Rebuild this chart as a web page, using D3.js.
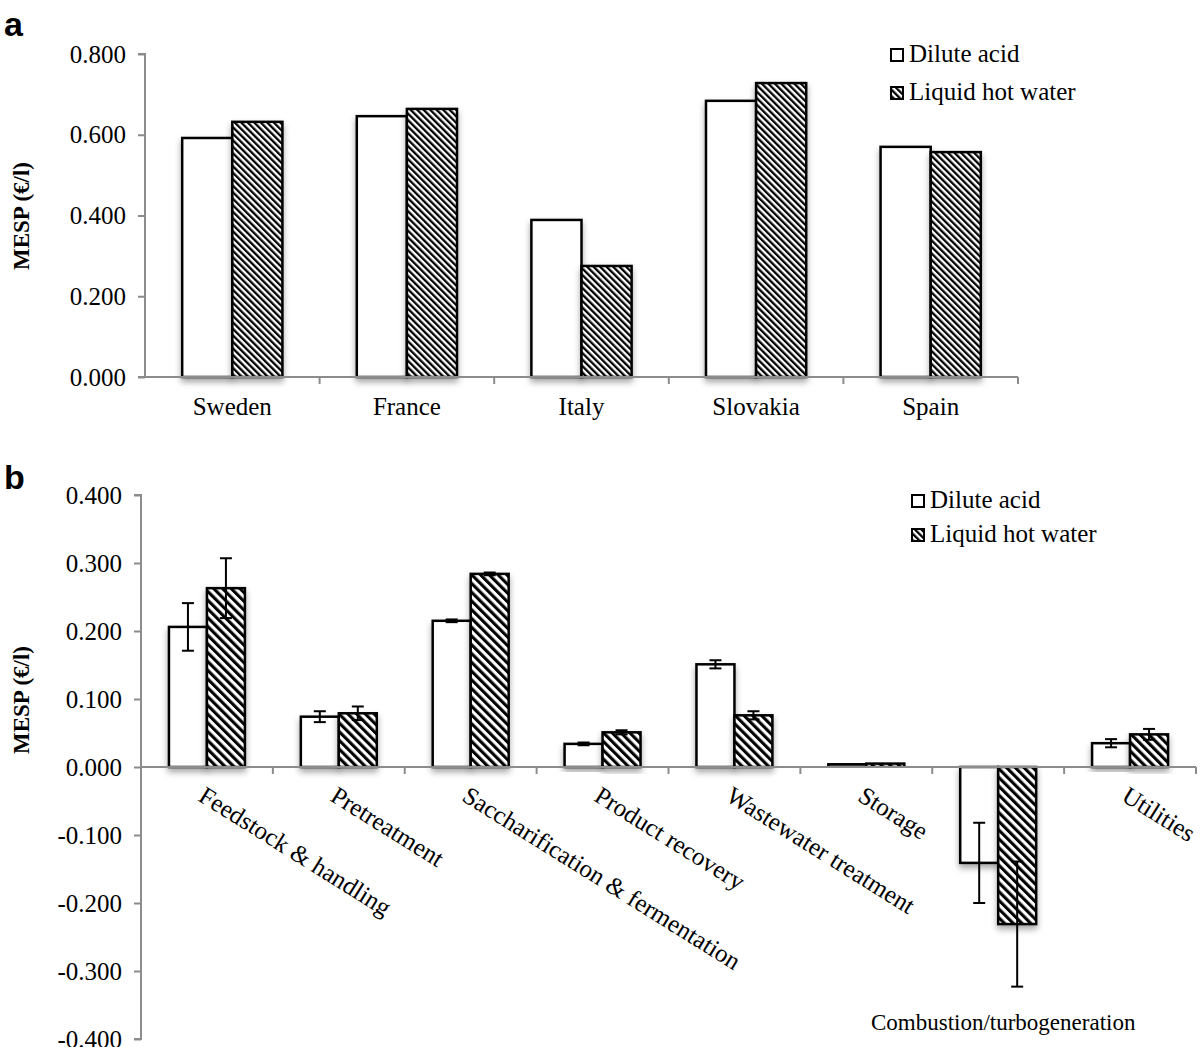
<!DOCTYPE html>
<html><head><meta charset="utf-8">
<script src="https://cdn.jsdelivr.net/npm/d3@7"></script>
<style>body{margin:0;background:#fff}svg{display:block}</style>
</head><body>
<script>
// ---- Data ----
const seriesNames = ["Dilute acid", "Liquid hot water"];
const countries = ["Sweden", "France", "Italy", "Slovakia", "Spain"];
const countryDilute = [0.592, 0.646, 0.389, 0.684, 0.570];
const countryLHW = [0.632, 0.664, 0.275, 0.728, 0.557];
const ticksA = [0, 0.2, 0.4, 0.6, 0.8];

const processes = ["Feedstock & handling", "Pretreatment", "Saccharification & fermentation", "Product recovery", "Wastewater treatment", "Storage", "Combustion/turbogeneration", "Utilities"];
const processDilute = [0.206, 0.074, 0.215, 0.034, 0.151, 0.004, -0.141, 0.035];
const processDiluteErr = [0.035, 0.008, 0.002, 0.002, 0.006, 0.001, 0.059, 0.006];
const processLHW = [0.263, 0.079, 0.284, 0.051, 0.076, 0.005, -0.231, 0.048];
const processLHWErr = [0.044, 0.010, 0.002, 0.003, 0.006, 0.001, 0.092, 0.008];
const ticksB = [-0.4, -0.3, -0.2, -0.1, 0, 0.1, 0.2, 0.3, 0.4];

const W = 1200, H = 1047;
const svg = d3.select("body").append("svg").attr("width", W).attr("height", H);
const defs = svg.append("defs");
function hatch(id, size) {
  const p = defs.append("pattern").attr("id", id).attr("patternUnits", "userSpaceOnUse")
    .attr("width", size).attr("height", size).attr("patternTransform", "rotate(-45)");
  p.append("rect").attr("width", size).attr("height", size).attr("fill", "#fff");
  p.append("rect").attr("width", size / 2).attr("height", size).attr("fill", "#000");
}
hatch("hatchA", 4.6);
hatch("hatchB", 6.2);
const f = defs.append("filter").attr("id", "shadow").attr("x", "-20%").attr("y", "-20%").attr("width", "140%").attr("height", "140%");
f.append("feDropShadow").attr("dx", 0).attr("dy", 4).attr("stdDeviation", 3).attr("flood-color", "#000").attr("flood-opacity", 0.35);

const serif = "'Liberation Serif', 'Times New Roman', serif";
const axisColor = "#8c8c8c";
const fmt = d => d3.format(".3f")(d).replace("\u2212", "-");

function panelLetter(txt, y) {
  svg.append("text").attr("x", 4).attr("y", y).text(txt)
    .style("font-family", "'Liberation Sans', Arial, sans-serif").style("font-weight", "bold").style("font-size", "34px");
}
function yTitle(cy) {
  svg.append("text").attr("transform", `translate(29,${cy}) rotate(-90)`).attr("text-anchor", "middle")
    .style("font-family", serif).style("font-weight", "bold").style("font-size", "23px").text("MESP (€/l)");
}
function yAxis(g, y, x0, ticks) {
  const ax = d3.axisLeft(y).tickValues(ticks).tickFormat(fmt).tickSize(7).tickPadding(12);
  const a = g.append("g").attr("transform", `translate(${x0},0)`).call(ax);
  a.attr("font-family", null);
  a.selectAll("path,line").attr("stroke", axisColor).attr("stroke-width", 2);
  a.select("path").attr("d", `M-7,${y.range()[0]}H0V${y.range()[1]}H-7`);
  a.selectAll("text").style("font-family", serif).style("font-size", "25px").attr("fill", "#000");
  return a;
}
function xBaseline(g, x, yPix) {
  const r = x.range();
  g.append("line").attr("x1", r[0]).attr("x2", r[1]).attr("y1", yPix).attr("y2", yPix)
    .attr("stroke", axisColor).attr("stroke-width", 2);
  const bounds = x.domain().map(d => x(d) + x.bandwidth());
  g.selectAll(".xt").data(bounds).enter().append("line")
    .attr("x1", d => d).attr("x2", d => d).attr("y1", yPix).attr("y2", yPix + 7)
    .attr("stroke", axisColor).attr("stroke-width", 2);
}
function legend(x, y, gap) {
  const lg = svg.append("g");
  seriesNames.forEach((s, i) => {
    lg.append("rect").attr("x", x).attr("y", y + i * gap - 13).attr("width", 12).attr("height", 12)
      .attr("fill", i === 0 ? "#fff" : "url(#hatchA)").attr("stroke", "#000").attr("stroke-width", 2);
    lg.append("text").attr("x", x + 18).attr("y", y + i * gap).text(s)
      .style("font-family", serif).style("font-size", "25px");
  });
}

// ---- Panel a ----
{
  const g = svg.append("g");
  const y = d3.scaleLinear().domain([0, 0.8]).range([377, 54]);
  const x = d3.scaleBand().domain(countries).range([145, 1018]).padding(0);
  const bw = x.bandwidth();
  const x1 = d3.scaleBand().domain(seriesNames).range([bw * 0.213, bw * 0.787]).padding(0);
  const vals = [countryDilute, countryLHW];
  yAxis(g, y, 145, ticksA);
  seriesNames.forEach((s, si) => {
    g.selectAll(".ba" + si).data(countries).enter().append("rect")
      .attr("x", d => x(d) + x1(s)).attr("width", x1.bandwidth())
      .attr("y", (d, i) => y(vals[si][i])).attr("height", (d, i) => y(0) - y(vals[si][i]))
      .attr("fill", si === 0 ? "#fff" : "url(#hatchA)").attr("stroke", "#000").attr("stroke-width", 2.5)
      .attr("filter", "url(#shadow)");
  });
  xBaseline(g, x, 377);
  g.selectAll(".la").data(countries).enter().append("text")
    .attr("x", d => x(d) + bw / 2).attr("y", 415).attr("text-anchor", "middle")
    .style("font-family", serif).style("font-size", "25px").text(d => d);
  panelLetter("a", 36);
  yTitle(216);
  legend(891, 62, 38);
}

// ---- Panel b ----
{
  const g = svg.append("g");
  const y = d3.scaleLinear().domain([-0.4, 0.4]).range([1039, 495]);
  const x = d3.scaleBand().domain(processes).range([141, 1196]).padding(0);
  const bw = x.bandwidth();
  const x1 = d3.scaleBand().domain(seriesNames).range([bw * 0.212, bw * 0.788]).padding(0);
  const vals = [processDilute, processLHW];
  const errs = [processDiluteErr, processLHWErr];
  yAxis(g, y, 141, ticksB);
  seriesNames.forEach((s, si) => {
    g.selectAll(".bb" + si).data(processes).enter().append("rect")
      .attr("x", d => x(d) + x1(s)).attr("width", x1.bandwidth())
      .attr("y", (d, i) => Math.min(y(vals[si][i]), y(0)))
      .attr("height", (d, i) => Math.abs(y(0) - y(vals[si][i])))
      .attr("fill", si === 0 ? "#fff" : "url(#hatchB)").attr("stroke", "#000").attr("stroke-width", 2.5)
      .attr("filter", "url(#shadow)");
  });
  xBaseline(g, x, 767);
  seriesNames.forEach((s, si) => {
    processes.forEach((p, i) => {
      const cx = x(p) + x1(s) + x1.bandwidth() / 2;
      const v = vals[si][i], e = errs[si][i];
      if (e < 0.0015) return;
      const eg = g.append("g").attr("stroke", "#000").attr("stroke-width", 2);
      eg.append("line").attr("x1", cx).attr("x2", cx).attr("y1", y(v - e)).attr("y2", y(v + e));
      eg.append("line").attr("x1", cx - 6).attr("x2", cx + 6).attr("y1", y(v - e)).attr("y2", y(v - e));
      eg.append("line").attr("x1", cx - 6).attr("x2", cx + 6).attr("y1", y(v + e)).attr("y2", y(v + e));
    });
  });
  processes.forEach((p, i) => {
    const cx = x(p) + bw / 2;
    if (p === "Combustion/turbogeneration") {
      g.append("text").attr("x", cx + 5).attr("y", 1030).attr("text-anchor", "middle")
        .style("font-family", serif).style("font-size", "23px").text(p);
    } else {
      g.append("text").attr("transform", `translate(${cx},784) rotate(32)`).attr("dy", "0.75em")
        .style("font-family", serif).style("font-size", "25px").text(p);
    }
  });
  panelLetter("b", 489);
  yTitle(700);
  legend(912, 508, 34);
}
</script>
</body></html>
